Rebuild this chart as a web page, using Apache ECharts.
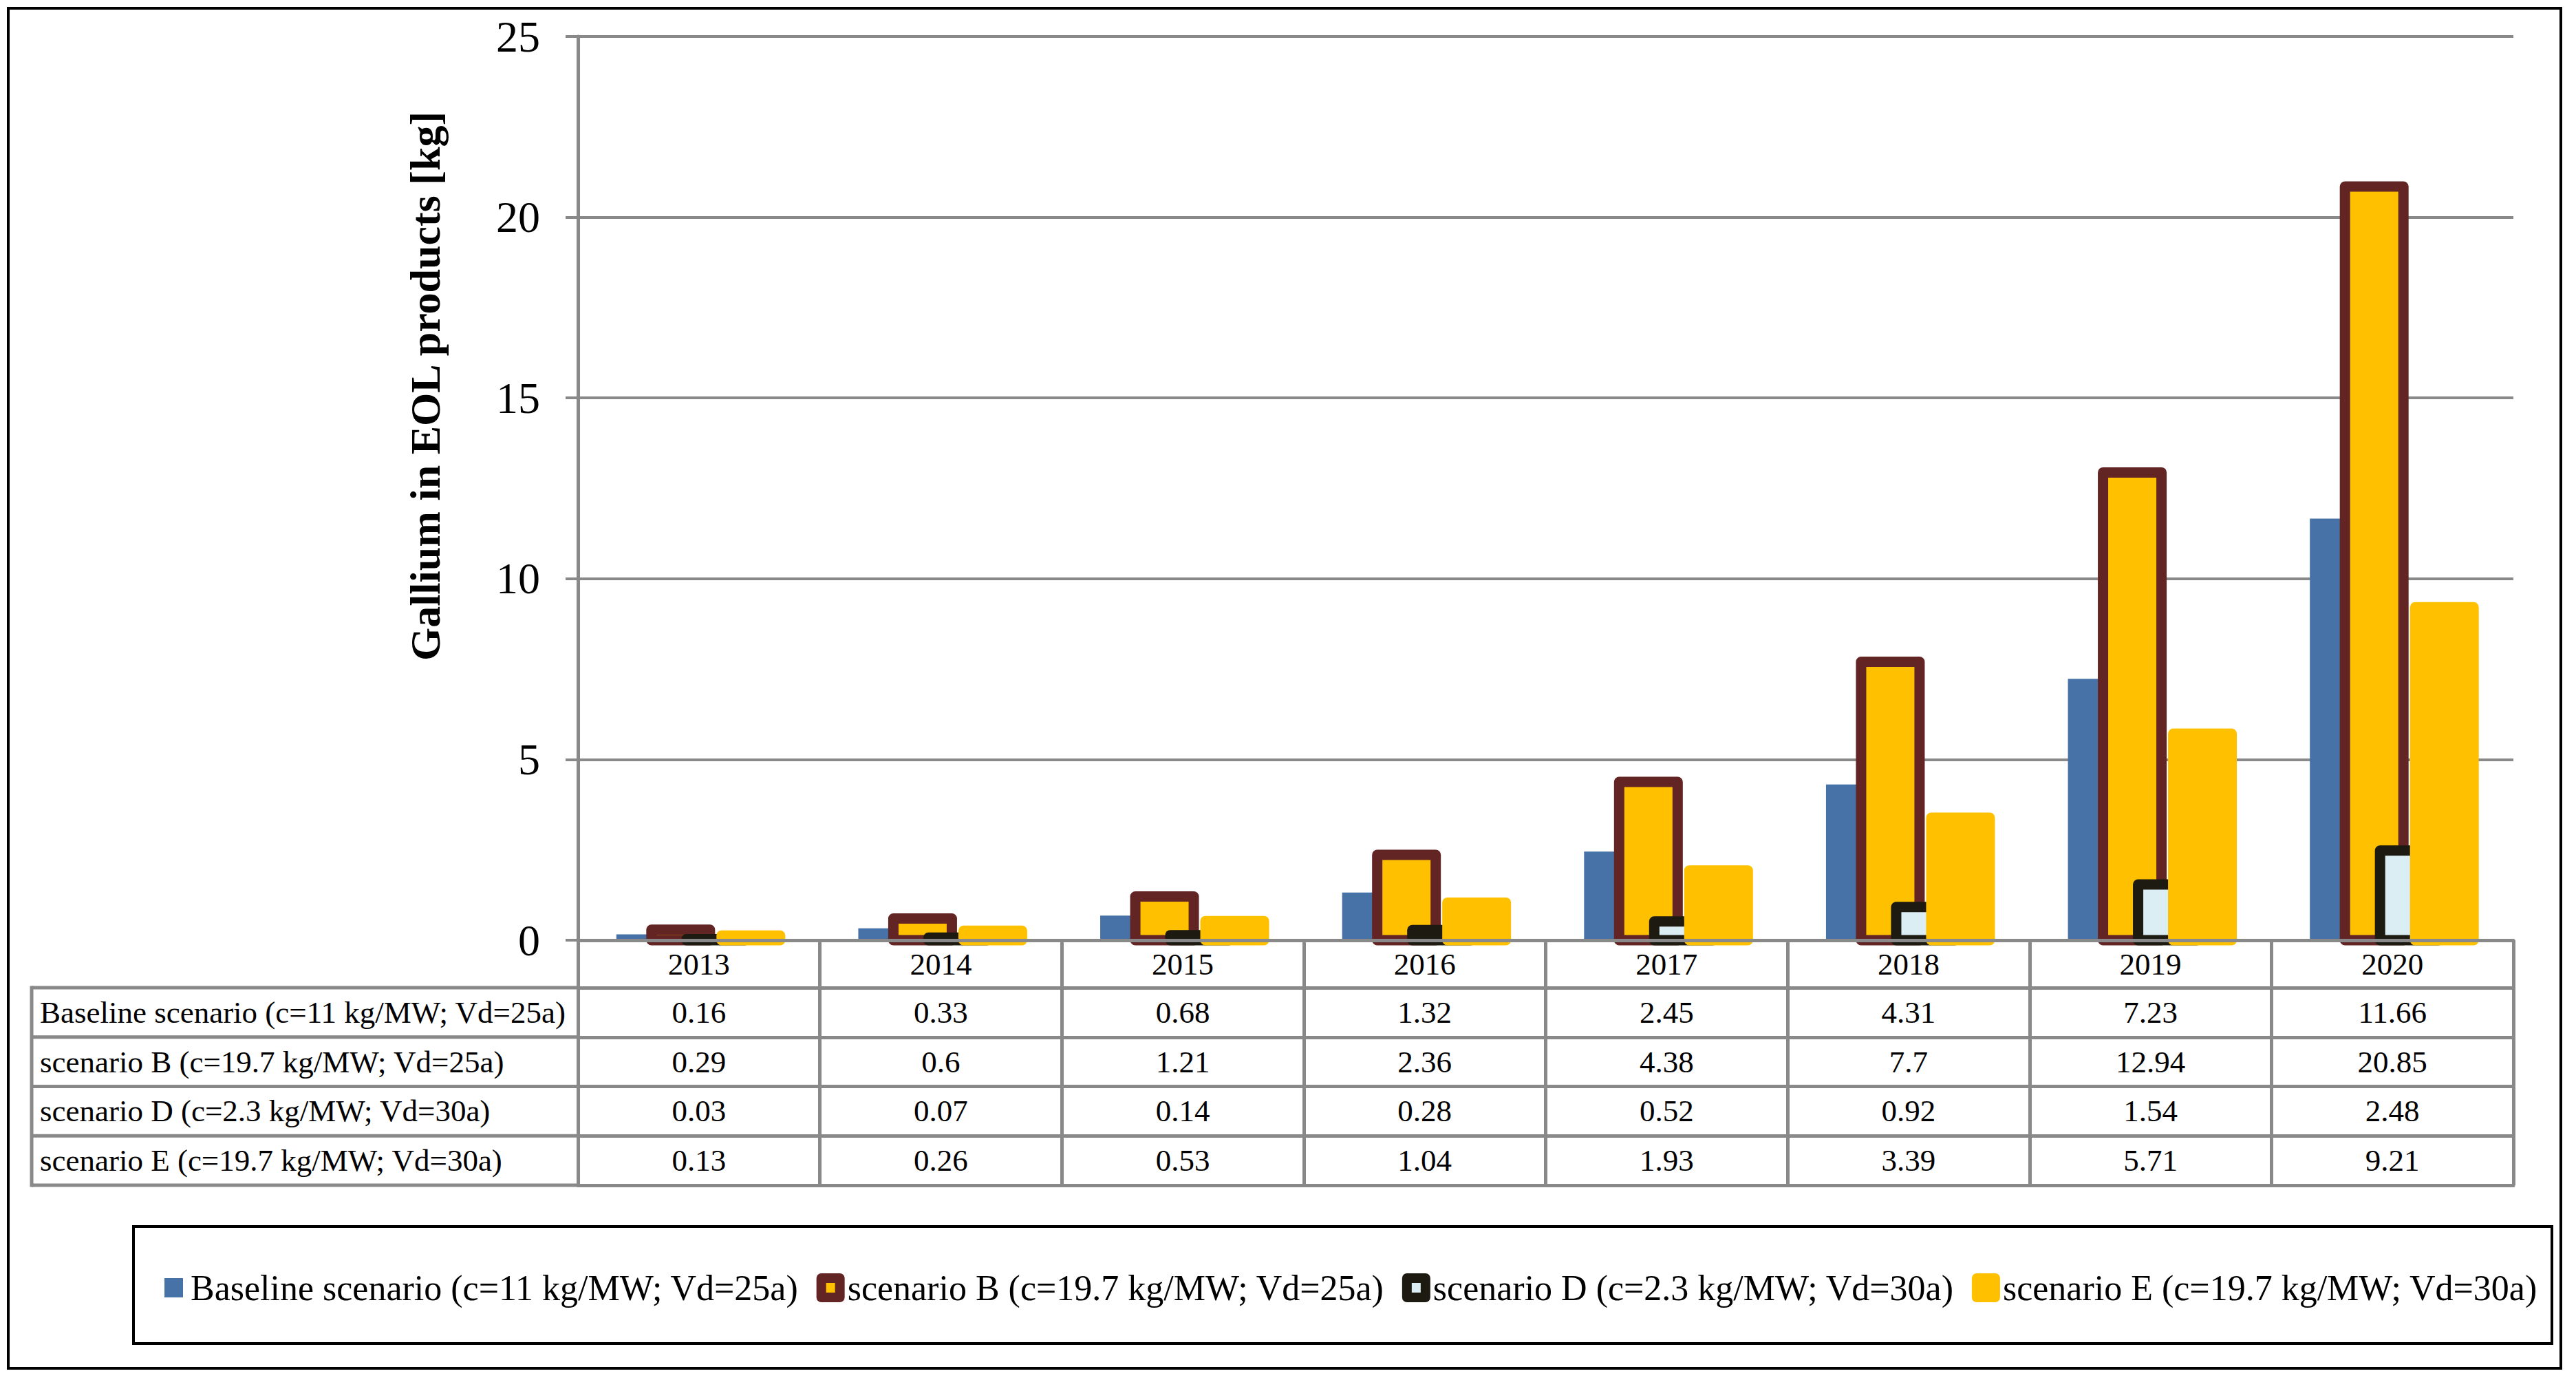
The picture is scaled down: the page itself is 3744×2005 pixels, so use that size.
<!DOCTYPE html>
<html><head><meta charset="utf-8">
<script src="https://cdn.jsdelivr.net/npm/echarts@6/dist/echarts.min.js"></script>
<style>html,body{margin:0;padding:0;background:#fff}#c{width:3744px;height:2005px}</style>
</head><body><div id="c"></div>
<script>
// ---- data ----
const years = ['2013','2014','2015','2016','2017','2018','2019','2020'];
const seriesNames = [
  'Baseline scenario (c=11 kg/MW; Vd=25a)',
  'scenario B (c=19.7 kg/MW; Vd=25a)',
  'scenario D (c=2.3 kg/MW; Vd=30a)',
  'scenario E (c=19.7 kg/MW; Vd=30a)'
];
const baseline = [0.16, 0.33, 0.68, 1.32, 2.45, 4.31, 7.23, 11.66];
const scenB    = [0.29, 0.6, 1.21, 2.36, 4.38, 7.7, 12.94, 20.85];
const scenD    = [0.03, 0.07, 0.14, 0.28, 0.52, 0.92, 1.54, 2.48];
const scenE    = [0.13, 0.26, 0.53, 1.04, 1.93, 3.39, 5.71, 9.21];
const yMin = 0, yMax = 25, yStep = 5;
const yTitle = 'Gallium in EOL products [kg]';

// ---- styles / layout ----
const FONT = '"Liberation Serif","Times New Roman",serif';
const GRAY = '#898989';
const BLUE = '#4672A8', YEL = '#FFC000', DRED = '#632523', DARK = '#1D1B11', LBLUE = '#DBEEF4';
const W = 3744, H = 2005;
const gridL = 840, gridR = 3653, gridT = 53, gridB = 1366;
const headH = 69, rowH = 71.75, tableLeft = 46;
const BAR_W = 85, BAR_STEP = 51, GROUP_START = -120;

const rows = [baseline, scenB, scenD, scenE];
const barStyles = [
  {fill: BLUE, lineWidth: 0},
  {fill: YEL, stroke: DRED, lineWidth: 15, lineJoin: 'round'},
  {fill: LBLUE, stroke: DARK, lineWidth: 15, lineJoin: 'round'},
  {fill: YEL, stroke: YEL, lineWidth: 15, lineJoin: 'round'}
];

const xAxes = [{
  type: 'category', data: years, gridIndex: 0, position: 'bottom', z: 10,
  axisLine: {show: true, lineStyle: {color: GRAY, width: 5}},
  axisTick: {show: true, interval: 0, length: headH, lineStyle: {color: GRAY, width: 5}},
  axisLabel: {interval: 0, fontSize: 45, fontFamily: FONT, color: '#000', margin: headH / 2, verticalAlign: 'middle'},
  splitLine: {show: false}
}];
rows.forEach((r, i) => {
  xAxes.push({
    type: 'category', data: years, gridIndex: 0, position: 'bottom', offset: headH + rowH * i, z: 10,
    axisLine: {show: true, lineStyle: {color: GRAY, width: 5}},
    axisTick: {show: true, interval: 0, length: rowH, lineStyle: {color: GRAY, width: 5}},
    axisLabel: {interval: 0, fontSize: 45, fontFamily: FONT, color: '#000', margin: rowH / 2, verticalAlign: 'middle',
      formatter: (v, idx) => String(r[idx])},
    splitLine: {show: false}
  });
});
xAxes.push({
  type: 'category', data: years, gridIndex: 0, position: 'bottom', offset: headH + rowH * rows.length, z: 10,
  axisLine: {show: true, lineStyle: {color: GRAY, width: 5}},
  axisTick: {show: false}, axisLabel: {show: false}, splitLine: {show: false}
});

const graphics = [
  {type: 'rect', shape: {x: 12, y: 12, width: 3710, height: 1976}, style: {fill: 'none', stroke: '#000', lineWidth: 4}, silent: true},
  {type: 'rect', shape: {x: 194, y: 1782, width: 3515, height: 170}, style: {fill: 'none', stroke: '#000', lineWidth: 4}, silent: true},
  {type: 'line', shape: {x1: tableLeft, y1: gridB + headH - 2.5, x2: tableLeft, y2: gridB + headH + rowH * rows.length + 2.5}, style: {stroke: GRAY, lineWidth: 5}, silent: true},
  {type: 'text', x: 618, y: 561, rotation: Math.PI / 2, silent: true,
    style: {text: yTitle, fill: '#000', font: 'bold 62px ' + FONT, align: 'center', verticalAlign: 'middle'}}
];
for (let k = 0; k <= rows.length; k++) {
  const y = gridB + headH + rowH * k;
  graphics.push({type: 'line', shape: {x1: tableLeft, y1: y, x2: gridL, y2: y}, style: {stroke: GRAY, lineWidth: 5}, silent: true});
}
seriesNames.forEach((n, i) => {
  graphics.push({type: 'text', x: 58, y: gridB + headH + rowH * i + rowH / 2, silent: true,
    style: {text: n, fill: '#000', font: '45px ' + FONT, align: 'left', verticalAlign: 'middle'}});
});

function makeBarSeries(i) {
  const vals = rows[i];
  return {
    type: 'custom', name: seriesNames[i], xAxisIndex: 0, yAxisIndex: 0,
    data: vals.map((v, k) => [k, v]),
    encode: {x: 0, y: 1},
    itemStyle: {color: barStyles[i].fill},
    renderItem: (params, api) => {
      const top = api.coord([api.value(0), api.value(1)]);
      const base = api.coord([api.value(0), 0]);
      return {
        type: 'rect',
        shape: {x: top[0] + GROUP_START + BAR_STEP * i, y: top[1], width: BAR_W, height: base[1] - top[1]},
        style: Object.assign({}, barStyles[i])
      };
    }
  };
}

const option = {
  animation: false,
  backgroundColor: '#fff',
  textStyle: {fontFamily: FONT},
  grid: {left: gridL, right: W - gridR, top: gridT, bottom: H - gridB, containLabel: false},
  xAxis: xAxes,
  yAxis: {
    type: 'value', min: yMin, max: yMax, interval: yStep,
    axisLine: {show: true, lineStyle: {color: GRAY, width: 5}},
    axisTick: {show: true, length: 18, lineStyle: {color: GRAY, width: 4}},
    axisLabel: {fontSize: 64, fontFamily: FONT, color: '#000', margin: 55},
    splitLine: {show: true, lineStyle: {color: GRAY, width: 4}}
  },
  legend: {
    left: 239, top: 1845, padding: 0, itemWidth: 27, itemHeight: 28, itemGap: 26,
    textStyle: {fontSize: 52, fontFamily: FONT, color: '#000', padding: [0, 0, 0, 6]},
    data: [
      {name: seriesNames[0], icon: 'rect', itemStyle: {color: BLUE, borderWidth: 0}},
      {name: seriesNames[1], icon: 'rect', itemStyle: {color: YEL, borderColor: DRED, borderWidth: 14, borderJoin: 'round'}},
      {name: seriesNames[2], icon: 'rect', itemStyle: {color: LBLUE, borderColor: DARK, borderWidth: 14, borderJoin: 'round'}},
      {name: seriesNames[3], icon: 'rect', itemStyle: {color: YEL, borderColor: YEL, borderWidth: 14, borderJoin: 'round'}}
    ]
  },
  graphic: graphics,
  series: [0, 1, 2, 3].map(makeBarSeries)
};
const chart = echarts.init(document.getElementById('c'), null, {renderer: 'svg', width: W, height: H});
chart.setOption(option);
</script>
</body></html>
